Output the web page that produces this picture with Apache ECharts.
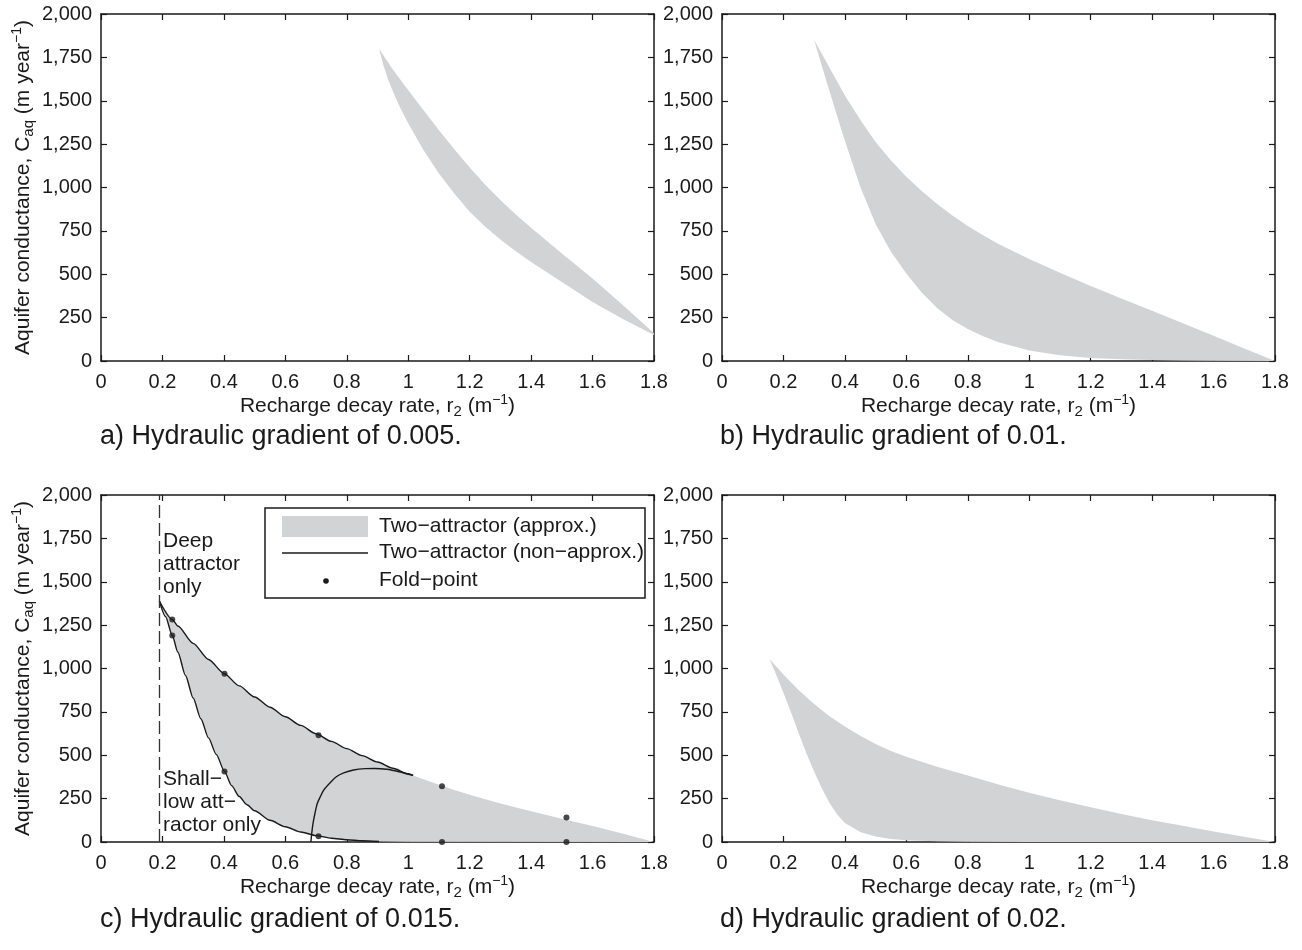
<!DOCTYPE html>
<html><head><meta charset="utf-8">
<script src="https://cdn.jsdelivr.net/npm/echarts@6/dist/echarts.min.js"></script>
<style>html,body{margin:0;padding:0;background:#fff}#c{width:1302px;height:950px}</style>
</head><body><div id="c"></div>
<script>
// ---------------- data ----------------
const xMin = 0, xMax = 1.8, xStep = 0.2;
const yMin = 0, yMax = 2000, yStep = 250;

// a) gradient 0.005 : two-attractor region (approx.)
const bandA_upper = [[0.905,1800],[0.95,1680],[1.0,1560],[1.05,1445],[1.1,1330],[1.15,1220],[1.2,1115],[1.25,1018],[1.3,928],[1.35,845],[1.4,768],[1.5,620],[1.6,475],[1.7,320],[1.8,160]];
const bandA_lower = [[0.905,1800],[0.92,1700],[0.935,1620],[0.95,1555],[0.975,1455],[1.0,1370],[1.05,1215],[1.1,1080],[1.15,965],[1.2,860],[1.25,775],[1.3,700],[1.35,632],[1.4,570],[1.5,455],[1.6,340],[1.7,240],[1.8,150]];

// b) gradient 0.01
const bandB_upper = [[0.30,1850],[0.35,1690],[0.40,1530],[0.45,1390],[0.50,1262],[0.55,1155],[0.60,1062],[0.65,980],[0.70,905],[0.75,838],[0.80,778],[0.85,725],[0.90,675],[1.0,588],[1.1,508],[1.2,432],[1.3,360],[1.4,290],[1.5,218],[1.6,145],[1.7,72],[1.8,0]];
const bandB_lower = [[0.30,1850],[0.325,1700],[0.35,1555],[0.375,1410],[0.40,1270],[0.45,1005],[0.50,790],[0.55,630],[0.60,505],[0.65,395],[0.70,305],[0.75,237],[0.80,185],[0.85,143],[0.90,108],[1.0,60],[1.1,33],[1.2,18],[1.3,10],[1.4,6],[1.5,3],[1.6,2],[1.8,0]];

// c) gradient 0.015
const bandC_upper = [[0.19,1389],[0.232,1283],[0.25,1245],[0.3,1145],[0.35,1052],[0.4,972],[0.45,900],[0.5,836],[0.55,777],[0.6,722],[0.65,672],[0.7,624],[0.75,580],[0.8,538],[0.85,498],[0.9,461],[0.95,425],[1.0,393],[1.05,362],[1.1,330],[1.15,300],[1.2,272],[1.3,222],[1.4,177],[1.5,134],[1.6,92],[1.7,48],[1.8,0]];
const bandC_lower = [[0.19,1389],[0.21,1300],[0.232,1190],[0.25,1095],[0.275,960],[0.3,830],[0.325,710],[0.35,600],[0.375,505],[0.402,407],[0.425,325],[0.45,262],[0.475,215],[0.5,180],[0.55,125],[0.6,88],[0.65,58],[0.7,37],[0.75,22],[0.8,13],[0.85,7],[0.9,4],[1.0,1],[1.8,0]];
const nonApproxUpper = [[0.19,1389],[0.232,1283],[0.25,1245],[0.3,1145],[0.35,1052],[0.4,972],[0.45,900],[0.5,836],[0.55,777],[0.6,722],[0.65,672],[0.7,624],[0.75,580],[0.8,538],[0.85,498],[0.9,461],[0.95,425],[1.0,393],[1.016,384]];
const nonApproxLower = [[0.19,1389],[0.21,1300],[0.232,1190],[0.25,1095],[0.275,960],[0.3,830],[0.325,710],[0.35,600],[0.375,505],[0.402,407],[0.425,325],[0.45,262],[0.475,215],[0.5,180],[0.55,125],[0.6,88],[0.65,58],[0.7,37],[0.75,22],[0.8,13],[0.85,7],[0.905,3]];
const nonApproxArc = [[0.683,0],[0.686,50],[0.69,106],[0.697,170],[0.704,222],[0.715,265],[0.725,299],[0.745,340],[0.766,376],[0.79,398],[0.822,415],[0.86,423],[0.891,424],[0.93,419],[0.97,405],[1.016,384]];
const foldPoints = [[0.232,1283],[0.232,1190],[0.402,970],[0.402,407],[0.708,615],[0.708,33],[1.11,322],[1.11,0],[1.515,141],[1.515,0]];
const deepOnlyLimit = 0.19;

// d) gradient 0.02
const bandD_upper = [[0.155,1055],[0.2,965],[0.25,875],[0.3,795],[0.35,725],[0.4,665],[0.45,612],[0.5,565],[0.55,525],[0.6,492],[0.7,433],[0.8,383],[0.9,332],[1.0,284],[1.1,240],[1.2,200],[1.3,162],[1.4,126],[1.5,93],[1.6,61],[1.7,30],[1.8,0]];
const bandD_lower = [[0.155,1055],[0.175,970],[0.2,860],[0.225,745],[0.25,625],[0.275,510],[0.3,405],[0.325,310],[0.35,225],[0.375,158],[0.4,110],[0.45,58],[0.5,32],[0.55,18],[0.6,10],[0.7,4],[0.8,2],[1.0,0],[1.8,0]];

const captions = ['a) Hydraulic gradient of 0.005.','b) Hydraulic gradient of 0.01.','c) Hydraulic gradient of 0.015.','d) Hydraulic gradient of 0.02.'];
const legendNames = ['Two\u2212attractor (approx.)','Two\u2212attractor (non\u2212approx.)','Fold\u2212point'];
const deepText = 'Deep\nattractor\nonly';
const shallowText = 'Shall\u2212\nlow att\u2212\nractor only';

// ---------------- chart ----------------
const FONT = '"Liberation Sans", Arial, Helvetica, sans-serif';
const INK = '#1a1a1a';
const GRAY = '#d1d3d4';
const grids = [
  {left:101, top:14, width:553, height:347},
  {left:722, top:14, width:553, height:347},
  {left:101, top:495, width:553, height:347},
  {left:722, top:495, width:553, height:347}
];
const showYName = [true, false, true, false];
const richName = {
  sub:{fontSize:15, fontFamily:FONT, color:INK, verticalAlign:'bottom', lineHeight:15},
  sup:{fontSize:14, fontFamily:FONT, color:INK, verticalAlign:'top', lineHeight:14}
};
const yFmt = v => v >= 1000 ? Math.floor(v/1000) + ',' + String(v % 1000).padStart(3,'0') : String(v);
const xFmt = v => String(+(+v).toFixed(1));

const xAxes = [], yAxes = [];
grids.forEach((g, i) => {
  [true, false].forEach(main => {
    xAxes.push({
      type:'value', gridIndex:i, min:xMin, max:xMax, interval:xStep,
      position: main ? 'bottom' : 'top',
      axisLine:{show:true, onZero:false, lineStyle:{color:INK, width:1.5}},
      axisTick:{show:true, inside:true, length:6, lineStyle:{color:INK, width:1.2}},
      axisLabel:{show:main, margin:11, fontSize:20, color:INK, fontFamily:FONT, formatter:xFmt},
      splitLine:{show:false},
      name: main ? 'Recharge decay rate, r{sub|2} (m{sup|\u22121})' : '',
      nameLocation:'middle', nameGap:31,
      nameTextStyle:{fontSize:21, color:INK, fontFamily:FONT, lineHeight:26, rich:richName}
    });
    yAxes.push({
      type:'value', gridIndex:i, min:yMin, max:yMax, interval:yStep,
      position: main ? 'left' : 'right',
      axisLine:{show:true, onZero:false, lineStyle:{color:INK, width:1.5}},
      axisTick:{show:true, inside:true, length:6, lineStyle:{color:INK, width:1.2}},
      axisLabel:{show:main, margin:9, fontSize:20, color:INK, fontFamily:FONT, formatter:yFmt},
      splitLine:{show:false},
      name: (main && showYName[i]) ? 'Aquifer conductance, C{sub|aq} (m year{sup|\u22121})' : '',
      nameLocation:'middle', nameGap:65, nameRotate:90,
      nameTextStyle:{fontSize:21, color:INK, fontFamily:FONT, lineHeight:26, rich:richName}
    });
  });
});

function band(i, upper, lower) {
  const poly = upper.concat(lower.slice().reverse());
  return {
    type:'custom', xAxisIndex:i*2, yAxisIndex:i*2, silent:true, z:1,
    data: poly,
    renderItem(params, api) {
      if (params.dataIndex !== 0) return null;
      return {type:'polygon', shape:{points: poly.map(p => api.coord(p))}, style:{fill:GRAY}};
    }
  };
}
const lineStyleNA = {color:INK, width:1.4};
const series = [
  band(0, bandA_upper, bandA_lower),
  band(1, bandB_upper, bandB_lower),
  band(2, bandC_upper, bandC_lower),
  band(3, bandD_upper, bandD_lower),
  {type:'line', xAxisIndex:4, yAxisIndex:4, data:nonApproxUpper, smooth:0.25, smoothMonotone:'x', showSymbol:false, symbol:'none', lineStyle:lineStyleNA, z:3, silent:true,
   markLine:{symbol:['none','none'], silent:true, label:{show:false}, lineStyle:{type:[13,5], color:'#333', width:1.3}, data:[{xAxis:deepOnlyLimit}]}},
  {type:'line', xAxisIndex:4, yAxisIndex:4, data:nonApproxLower, smooth:0.25, smoothMonotone:'x', showSymbol:false, symbol:'none', lineStyle:lineStyleNA, z:3, silent:true},
  {type:'line', xAxisIndex:4, yAxisIndex:4, data:nonApproxArc, smooth:0.3, showSymbol:false, symbol:'none', lineStyle:lineStyleNA, z:3, silent:true},
  {type:'scatter', xAxisIndex:4, yAxisIndex:4, data:foldPoints, symbol:'circle', symbolSize:6, itemStyle:{color:INK}, z:4, silent:true}
];

const txt = (left, top, text, size, lh) => ({type:'text', left, top, silent:true,
  style:{text, fill:INK, font: size + 'px ' + FONT, lineHeight: lh || size}});
const graphic = [
  txt(100, 423, captions[0], 27),
  txt(720, 423, captions[1], 27),
  txt(100, 906, captions[2], 27),
  txt(720, 906, captions[3], 27),
  txt(163, 530, deepText, 21, 23),
  txt(163, 768, shallowText, 21, 23),
  // legend
  {type:'rect', shape:{x:265, y:508, width:380, height:90}, style:{fill:'#fff', stroke:INK, lineWidth:1.5}, z:10, silent:true},
  {type:'rect', shape:{x:282, y:516, width:86, height:21}, style:{fill:GRAY}, z:11, silent:true},
  {type:'line', shape:{x1:282, y1:553, x2:368, y2:553}, style:{stroke:INK, lineWidth:1.4}, z:11, silent:true},
  {type:'circle', shape:{cx:326, cy:581, r:2.8}, style:{fill:INK}, z:11, silent:true},
  {type:'text', left:379, top:516, z:11, silent:true, style:{text:legendNames[0], fill:INK, font:'21px ' + FONT}},
  {type:'text', left:379, top:542, z:11, silent:true, style:{text:legendNames[1], fill:INK, font:'21px ' + FONT}},
  {type:'text', left:379, top:570, z:11, silent:true, style:{text:legendNames[2], fill:INK, font:'21px ' + FONT}}
];

const chart = echarts.init(document.getElementById('c'), null, {renderer:'canvas'});
chart.setOption({
  animation:false,
  backgroundColor:'#fff',
  grid: grids,
  xAxis: xAxes,
  yAxis: yAxes,
  series,
  graphic
});
</script></body></html>
